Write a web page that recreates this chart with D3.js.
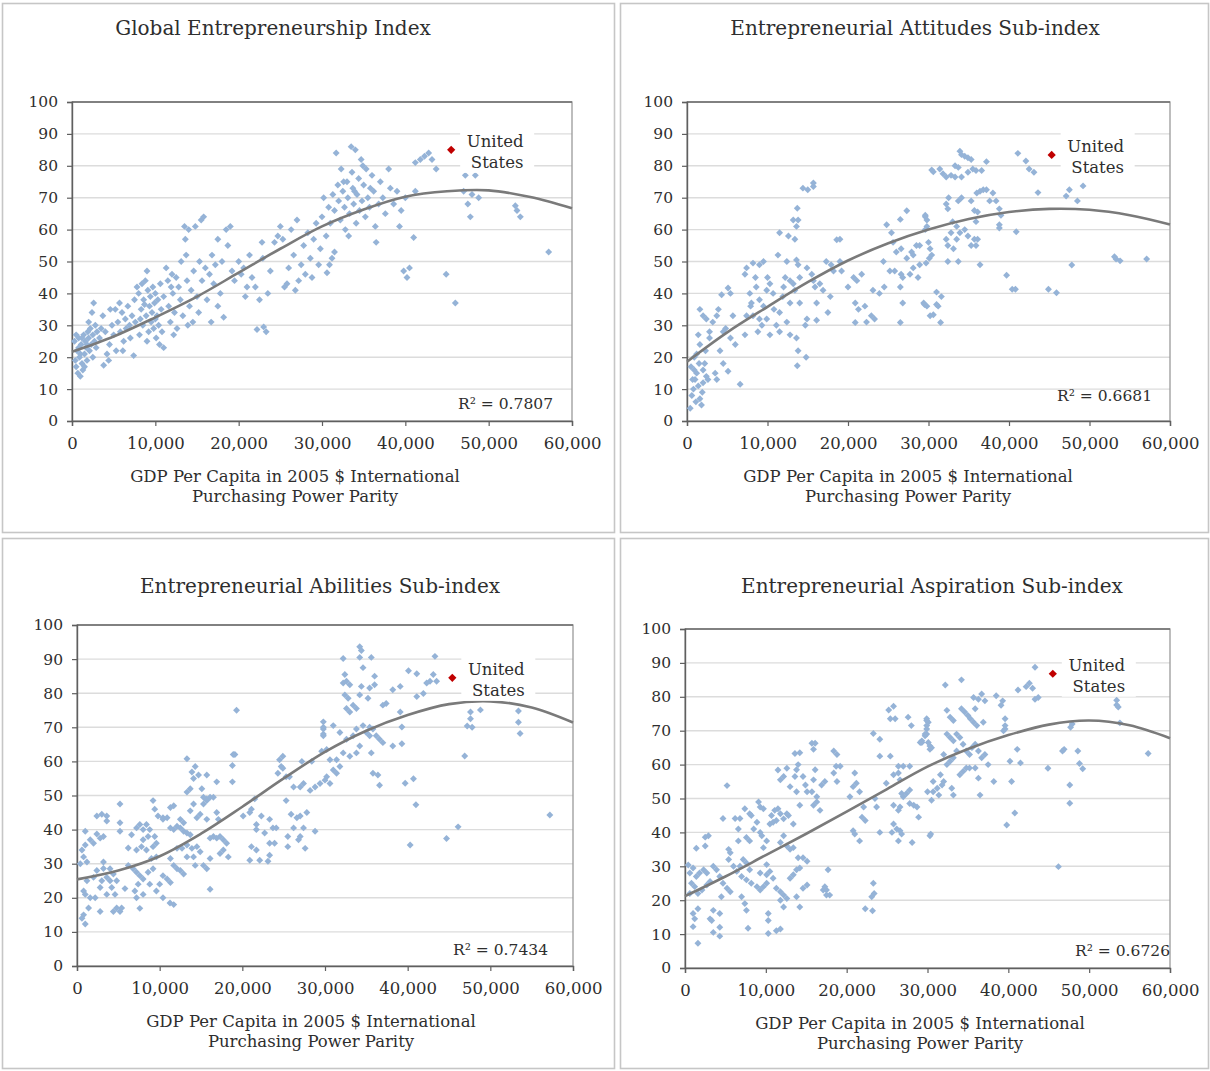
<!DOCTYPE html>
<html lang="en">
<head>
<meta charset="UTF-8">
<title>Entrepreneurship Index vs GDP per Capita</title>
<script src="https://cdn.jsdelivr.net/npm/d3@7"></script>
<style>
    body { margin: 0; background: #fff; }
    svg text { font-family: "DejaVu Serif", serif; fill: #2e2e2e; }
</style>
</head>
<body>
<svg id="chart" width="1210" height="1071"></svg>
<script>
// axis ticks (GDP in thousands of 2005 $ PPP)
const gdpTicks = [0, 10, 20, 30, 40, 50, 60];
const scoreTicks = [0, 10, 20, 30, 40, 50, 60, 70, 80, 90, 100];

// trend line every 5,000 $
const trendGdp = [0, 5, 10, 15, 20, 25, 30, 35, 40, 45, 50, 55, 60];
const geiTrend = [21.7, 26.5, 32.5, 39, 46.5, 54, 61, 66.3, 70.3, 72, 72.3, 70.2, 66.7];
const attitudesTrend = [18.6, 27.8, 35.8, 43.5, 50.3, 55.7, 60, 63.3, 65.5, 66.5, 66.2, 64.5, 61.6];
const abilitiesTrend = [25.4, 28, 32.2, 38.8, 46.7, 55, 62.8, 69, 73.6, 76.8, 77.6, 75.8, 71.4];
const aspirationTrend = [21.2, 27, 33.3, 39.6, 46.1, 52.8, 59.4, 64.6, 68.7, 71.8, 73, 71.6, 67.8];

// United States [gdp, score]
const geiUS = [45.5, 85];
const attitudesUS = [45.3, 83.4];
const abilitiesUS = [45.4, 84.5];
const aspirationUS = [45.5, 86.8];

// country-year points [gdp (thousands), score]
const geiPoints = [
    [0.3,25],[0.4,19],[0.5,17],[0.6,22],[0.7,15],[0.8,26],[0.9,20],[1.0,14],[1.1,24],[1.2,18],[1.3,16],[1.4,27],
    [1.5,21],[1.6,25],[1.7,23],[1.8,19],[1.9,28],[2.0,26],[2.1,22],[2.2,29],[2.3,24],[2.4,34],[2.5,27],[2.6,37],
    [2.7,25],[2.8,30],[2.9,23],[3.0,28],[0.5,27],[1.0,21],[1.5,17],[2.0,31],[0.8,23],[1.2,26],[1.8,24],[2.5,20],
    [3.3,26],[3.5,29],[3.7,33],[4.0,28],[4.2,21],[4.4,19],[4.5,24],[4.8,30],[5.0,27],[5.2,35],[5.3,22],[5.5,31],
    [5.7,37],[5.8,28],[6.0,34],[6.2,25],[6.4,32],[6.5,29],[6.7,36],[6.9,30],[7.0,26],[7.2,33],[7.4,20.5],[7.5,38],
    [7.6,31],[3.8,17.5],[4.6,35],[6.1,22],
    [7.8,42],[8.0,40],[8.1,27],[8.3,35],[8.4,43],[8.5,30],[8.6,38],[8.8,44],[8.9,33],[9.0,47],[9.1,41],[9.2,28],
    [9.3,36],[9.4,39],[9.5,31],[9.6,34],[9.7,42],[9.8,29],[9.9,37],[10.0,40],[10.1,26],[10.2,33],[10.3,38],[10.4,30],
    [10.5,24],[10.6,43],[10.7,35],[10.8,28],[11.0,23],[11.0,39],[8.2,32],[9.0,25],[10.0,32],[8.7,36.5],
    [11.3,48],[11.5,44],[11.6,36],[11.8,31],[12.0,46],[12.1,40],[12.3,34],[12.5,45],[12.6,29],[12.8,42],[13.0,38],
    [13.1,50],[13.3,33],[13.5,61],[13.6,57],[13.7,52],[13.8,44],[14.0,60],[14.1,36],[14.3,41],[14.5,31],[14.6,47],
    [14.8,61],[15.0,39],[15.2,34],[15.5,63],[15.8,64],[12.2,27],[13.9,30],[11.9,42],
    [15.3,50],[15.6,44],[16.0,48],[16.2,38],[16.5,46],[16.7,31],[17.0,43],[17.2,49],[17.5,36],[17.8,40],[18.0,50],
    [18.2,32.5],[18.5,60],[18.7,55],[19.0,61],[19.2,47],[16.8,52],[17.5,57],
    [19.5,44],[20.0,50],[20.3,46],[20.6,48],[20.8,39],[21.0,42],[21.3,52],[21.6,45],[22.0,42],[22.2,28.7],[22.5,38],
    [22.8,56],[23.0,29.5],[23.3,28],[23.5,40],[23.8,47],[22.9,51],
    [24.3,56],[24.7,58],[25.0,61],[25.3,57],[25.5,42],[25.8,43],[26.0,48],[26.3,60],[26.6,52],[27.0,63],[27.2,44],
    [27.5,49],[27.8,55],[28.0,46],[28.3,59],[28.6,51],[29.0,57],[29.3,62],[29.6,49],[30.0,64],[30.2,70],[29.8,54],
    [26.8,41],[28.8,45],
    [30.5,58],[30.8,67],[31.0,62],[31.3,71],[31.5,66],[31.7,84],[31.9,74],[32.0,69],[32.2,63],[32.3,79],[32.5,72],
    [32.7,67],[32.8,60],[33.0,75],[33.1,70],[33.3,65],[33.5,86],[33.6,78],[33.7,73],[33.8,68],[34.0,85],[34.1,62],
    [34.2,71],[34.4,76],[34.5,66],[34.7,82],[34.8,69],[35.0,74],[35.2,64],[35.3,79],[35.5,70],[35.7,67],[36.0,77],
    [36.2,72],[36.4,61],[36.5,56],[36.8,68],[37.0,75],[37.3,70],[37.6,65],[38.0,79],[38.2,73],[33.2,58],[31.2,51],
    [30.6,46.5],[30.9,49],[31.5,53],[32.6,75],[33.9,72],[35.8,73],[34.9,80],
    [38.6,68],[39.0,72],[39.5,66],[39.8,47],[40.2,45],[40.5,48],[41.0,57.5],[41.2,72],[41.2,81],[41.8,82],[42.3,83],
    [42.8,84],[43.2,82],[43.7,79],[40.0,70],[39.3,61],[44.9,46],
    [46.0,37],[47.2,77],[48.4,77],[48.0,71],[47.0,72],[47.5,68],[47.8,64],[48.8,70],[53.2,67.5],[53.4,66],[53.8,64],
    [57.2,53]
];

const attitudesPoints = [
    [0.4,4],[0.6,8],[0.8,10],[1.0,13],[1.2,15],[1.4,11],[1.6,7],[1.8,5],[2.0,12],[2.2,18],[2.4,14],[0.5,17],
    [0.9,20],[1.2,21],[1.6,24],[2.0,16],[2.6,13],[1.1,6],[0.7,13],[1.9,9],[2.3,22],[2.8,26],[1.5,18],[0.9,16],
    [1.6,35],[2.0,33],[2.4,32],[2.8,28],[3.2,31],[1.4,27],[3.7,33],[3.9,35],[4.3,39.6],[5.1,41.7],[5.4,40],[5.7,33],
    [4.5,28],[4.1,22],[4.8,29],[5.4,26],[5.1,15.6],[4.5,18],[3.5,15],[3.7,13],[6.6,11.5],[6.0,24],
    [7.2,46],[7.4,48],[8.2,49.5],[9.0,49],[9.5,50],[8.6,42],[7.8,40],[8.0,37],[9.0,38],[9.9,41],[10.3,43],[10.7,40],
    [7.4,33],[8.2,33],[9.0,32],[9.9,32],[10.3,27],[11.1,30],[11.5,28],[8.8,28],[7.2,27],[9.5,36],[10.0,45],[8.5,45],
    [7.9,36],[10.8,35],[9.3,30],
    [11.3,52],[11.5,59],[12.6,58],[13.7,66.7],[13.2,63],[13.8,63],[13.6,61],[13.4,57],[13.6,50.5],[13.8,49],[12.4,50],
    [12.2,45],[12.8,44],[13.2,43],[14.0,45],[11.9,39],[12.8,37],[13.4,41],[14.0,37],[11.5,34],[12.4,31],[12.8,27],
    [13.6,26],[13.8,22],[14.8,20],[13.7,17.3],[14.7,30],[14.9,32],[14.4,73],[15.0,72.5],[15.7,74.6],[15.7,73.5],[12.0,42],
    [14.9,48],[15.5,46],[15.9,42],[16.1,37],[16.1,31.6],[15.7,44],[16.5,43],[16.9,41],[17.3,50],[17.9,49],[18.6,56.8],
    [19.0,57],[18.2,47],[17.8,39],[17.5,34],[19.2,47],[19.0,50],
    [20.0,42],[20.7,45],[21.1,44],[21.7,46],[20.9,37],[21.3,35],[22.1,36],[22.3,31],[20.9,30.9],[22.9,33],[23.3,32],
    [23.1,41],[23.9,40],[24.5,42],
    [24.8,61.5],[25.4,59],[26.5,63.2],[27.3,65.9],[25.6,56],[26.0,53],[26.6,54],[27.3,51],[27.9,53],[28.5,55],[28.9,55],
    [28.1,52],[24.4,50],[25.2,47],[25.8,47],[26.6,46],[26.8,45],[27.7,46],[28.1,48],[28.7,45],[26.5,42],[26.8,37],
    [26.5,30.9],[29.4,37],[29.8,36],[30.2,33],[29.6,64],[29.8,63],[29.8,61],[30.0,56],[30.2,54],[30.4,52],[30.4,78.7],
    [33.9,84.6],[34.1,83.5],[34.5,83],[34.9,82.5],[35.3,82],[33.3,80],[33.7,79.5],[30.6,78.1],[31.4,79],[31.8,77.5],
    [32.2,76.5],[32.8,77],[33.3,76.5],[34.1,76.5],[34.9,78],[35.5,79],[35.9,78.5],[36.6,78.5],[37.2,81.3],[36.4,72],
    [36.0,71.5],[36.8,72.5],[37.2,72.5],[38.0,71.5],[38.4,69],[38.8,66.5],[39.0,64.5],[38.8,61.5],[38.8,60.5],[37.6,69],
    [35.3,69],[34.1,70],[33.7,69],[32.5,70],[32.2,68],[32.4,66.5],[33.0,62.5],[33.5,61],[32.8,59],[32.2,57],[32.4,55],
    [33.5,57],[33.1,54],[33.9,59],[34.5,60],[35.3,55],[34.9,58],[35.7,57],[35.9,55],[36.1,57],[35.9,62.5],[36.1,65.5],
    [35.7,66],[36.4,49],[33.7,50],[32.4,50],[30.1,51],[29.7,49.5],[28.9,49],[29.6,64.5],[29.6,60],
    [40.9,59.3],[41.1,83.9],[42.1,81.5],[42.5,79],[43.1,78],[43.6,71.6],[39.7,45.7],[40.4,41.3],[40.8,41.3],[44.9,41.3],
    [45.9,40.2],[31.0,40.4],[31.6,39],[29.5,36.5],[31.0,36.5],[31.2,36],[30.6,33.3],[31.5,30.9],
    [47.1,70.5],[47.5,72.5],[48.5,69],[49.2,73.7],[47.8,48.9],[53.1,51.5],[53.3,50.8],[53.8,50.2],[57.1,50.8]
];

const abilitiesPoints = [
    [0.4,30],[1.0,35.5],[0.8,32],[1.2,30.5],[0.6,34],[1.6,37],[2.0,36],[2.4,38.7],[2.8,37.5],[3.2,38],[1.0,39.5],
    [0.8,22],[1.0,21],[1.6,20],[2.2,20],[1.2,25],[2.0,26],[2.4,28],[0.8,15],[1.0,12.3],[0.6,14],[1.4,17],[2.8,16],[3.0,25],
    [2.4,44],[3.0,44.5],[3.6,44],[3.6,42.5],[5.2,47.5],[5.2,42],[5.2,39.5],[3.2,28.6],[3.6,26],[4.0,25],[4.4,27],
    [4.2,23],[4.6,21],[4.8,25],[4.8,17],[5.2,16],[4.4,16],[5.4,17],[5.8,22.7],[3.2,30.5],[4.0,28.5],[2.8,23],[3.6,21],
    [6.2,34.6],[6.6,38.5],[7.2,40.5],[7.6,41.5],[8.0,40],[8.4,41.5],[8.8,40],[8.6,38],[8.0,37],[7.8,35],[7.2,34],
    [8.4,34],[9.2,35],[9.4,38],[9.6,36],[6.2,29.5],[6.8,28.5],[7.2,27.5],[7.6,26.5],[8.0,25.5],[8.6,27.5],[8.8,24],
    [8.0,21],[7.2,20],[7.6,16.9],[7.0,22],[7.4,24],[9.2,28.5],[9.0,31.5],[9.6,32],[9.2,48.5],[9.4,46],[9.8,44],
    [10.4,43.5],[10.4,43],[10.9,43.5],[11.3,40.5],[11.7,40],[12.1,41],[12.5,40.5],[12.9,39.5],[13.3,39],[13.7,38.5],
    [12.5,43],[12.9,42],[11.7,47],[11.3,46.5],[12.1,34.5],[12.7,34.5],[13.3,35.5],[13.9,34.5],[14.5,35],[14.9,33.5],
    [11.3,31.5],[11.7,29.5],[10.4,26.5],[10.9,25.5],[11.3,24.5],[10.0,24],[9.6,22],[10.4,20],[11.25,18.5],[11.7,18],
    [12.1,28.5],[12.5,28],[12.9,27],[13.3,32],[14.1,32],[14.3,29.5],[15.3,29.5],[15.7,28.5],[16.1,22.5],[13.7,45.5],
    [14.1,47.5],[14.5,43.5],[14.9,44.5],[15.3,47.5],[15.7,48.5],[13.3,51],[13.7,52],[14.1,55],[13.9,56.9],[14.3,58.5],
    [14.7,56],[15.1,52],[15.3,49.5],[15.7,56],[13.3,60.8],
    [15.7,49],[16.1,49.5],[16.5,49.5],[16.9,45],[17.1,43],[15.7,43],[16.1,37.5],[16.5,38],[16.9,37.5],[17.3,38],
    [17.7,37],[18.1,36],[18.3,32],[16.9,54],[17.3,33],[17.7,34],[16.1,31.5],[18.9,62],[19.1,62],[18.8,58.8],[18.8,54],[19.3,75],
    [20.1,44],[20.9,45],[21.5,49],[21.1,46],[21.7,41.5],[22.3,44],[23.3,43],[23.7,40.5],[21.7,40],[21.1,35],[21.7,34],
    [22.1,31],[20.9,31],[23.1,30.7],[23.3,32.5],[22.7,39],[23.3,36],[23.9,36],[24.1,40.5],
    [24.5,60.5],[24.7,58.5],[24.9,61.5],[25.3,55.5],[25.7,55.5],[24.3,56.5],[26.2,52.5],[27.0,52.5],[27.4,53.5],
    [28.2,51.5],[28.8,52.5],[29.4,53.5],[30.0,54.5],[25.3,48.5],[25.9,44.5],[26.6,43.5],[27.0,44],[27.4,40.5],[27.8,45],
    [26.2,40.5],[27.0,38],[26.8,37],[25.5,38],[25.5,35],[27.6,34.5],[28.8,39.5],[27.2,60],[28.4,60],[24.9,58],[29.6,63],
    [29.8,71.6],[29.8,70],[29.8,68],[30.2,63.5],[30.6,60.5],
    [34.2,93.6],[34.4,92.5],[32.2,90.2],[34.2,90.5],[34.6,87.5],[35.6,90.5],[36.0,85],[40.1,86.6],[41.1,85.7],[43.3,90.8],
    [43.1,85.5],[42.7,83.5],[43.5,83.5],[42.3,83],
    [32.4,85.5],[32.6,83.5],[33.0,82.5],[32.2,83],[32.4,79.5],[32.8,78.5],[32.6,75.5],[33.0,74.5],[33.4,76.5],[33.8,75.5],
    [34.2,79.5],[35.2,78.5],[35.4,81.5],[36.0,82.5],[34.4,82],[37.0,76.5],[37.4,77],[38.2,81],[39.1,82],[39.1,74.5],
    [41.1,79],[41.9,79.9],
    [29.8,69.5],[29.8,67.5],[31.0,70.5],[31.8,68.5],[32.6,66.5],[33.4,67.5],[33.8,69.5],[34.6,70.5],[35.0,68.5],[35.4,67.5],
    [35.8,69.5],[36.2,67.5],[36.6,66.5],[37.0,65.5],[34.2,64.5],[33.8,62.5],[33.0,61.5],[32.2,62.5],[31.4,60.5],[31.8,58.5],
    [31.0,57.5],[30.2,55.5],[30.6,53.5],[31.4,56.5],[38.2,64.5],[35.6,62.5],[35.8,56.5],[36.4,56],[36.6,53],[35.4,70],
    [39.7,53.6],[40.7,54.9],[41.0,47.3],[40.3,35.5],[44.7,37.4],[46.1,40.8],[57.2,44.3],[39.3,70.1],[39.3,65.2],[46.9,61.6],
    [47.2,70.4],[47.8,70],[47.6,74.5],[47.6,72.5],[48.8,75.1],[53.4,74.8],[53.4,71.5],[53.6,68.2]
];

const aspirationPoints = [
    [0.4,30.4],[0.6,28],[1.0,29.5],[1.4,27],[1.8,28],[2.3,29],[2.7,28],[0.8,25],[1.2,24],[1.6,22],[2.1,23],[2.7,24.5],
    [3.1,25.5],[0.6,22],[1.0,16.1],[1.2,14.5],[1.0,12.2],[1.6,17.5],[1.6,7.3],[1.4,35.3],[2.5,38.6],[2.9,39],[2.5,36],
    [3.1,14.5],[3.3,14],[3.5,10.5],[4.3,9.4],[4.3,12],
    [3.5,30],[3.9,29],[4.3,27],[4.7,25],[5.2,23.5],[5.6,22.5],[4.5,21],[4.3,16.1],[3.5,17],[5.2,53.8],[4.7,44.1],
    [5.4,35],[5.6,34],[5.4,32],[6.0,30],[6.4,28.5],
    [6.2,44.1],[6.8,44.1],[6.6,41],[6.6,37.5],[7.6,38.5],[8.0,37.5],[7.4,47],[8.0,45.5],[8.2,45],[8.5,41],[9.1,49],
    [9.3,47.5],[9.7,47],[8.9,43],[9.3,40],[9.5,39],[7.2,32],[7.6,31],[8.0,29],[6.8,30],[7.0,27],[7.6,26],[8.2,25],
    [8.9,24],[9.3,23],[9.7,24],[10.1,25],[7.0,21],[7.4,19],[7.6,17],[7.8,11.7],[9.3,28],[10.1,27.5],[10.3,16.1],
    [10.3,14],[10.3,10.2],[11.3,11],[11.8,11.5],
    [10.5,42.5],[10.9,43],[11.3,43.5],[10.7,45],[11.1,46.5],[11.5,47],[11.8,45.5],[12.2,44],[12.6,45.5],[12.8,45],
    [13.4,42.5],[12.2,39],[11.8,37],[12.6,36],[13.0,35],[13.4,35.5],[10.1,37.5],[9.7,35.5],[10.1,30.5],[10.5,28.5],
    [10.9,26.5],[11.3,23.5],[11.8,22.5],[12.2,21.5],[12.6,20.5],[13.0,26.5],[13.4,27.5],[13.8,29],[14.2,29.5],[14.0,32.5],
    [14.6,32.5],[15.1,31.5],[15.1,24.5],[14.6,23.5],[13.8,21],[14.2,18],[12.2,18],[11.8,20],[11.5,58.4],[11.8,55.5],
    [12.2,56.5],[12.6,58.9],[13.0,53.5],[13.6,56.5],[13.8,58.5],[13.6,63.3],[14.2,63.5],[14.0,60],[14.6,56.5],[15.7,66.3],
    [16.1,66.3],[15.9,64.5],[16.1,58.5],[15.9,55.5],[15.7,52],[16.3,50.5],[16.9,54],[17.3,55],[15.9,48],[16.3,49],[16.7,46.5],
    [14.9,54],[15.1,52],[14.2,48],[13.8,52],[17.1,23],[17.5,21.5],[17.9,21.5],[17.5,23],[17.7,29],[17.3,24],[18.4,64],
    [18.8,63],[19.2,59.5],[18.7,59.5],[18.8,55],[18.4,57.5],
    [21.0,57.5],[21.2,54.5],[20.8,53.5],[20.4,50.5],[21.6,52],[22.1,47.5],[21.9,44.5],[22.3,43.5],[20.8,40.5],[21.0,39.5],
    [21.6,37.5],[23.3,69.2],[22.3,17.5],[23.3,25],[23.4,22],[23.1,21],[23.2,16.9],[23.5,50],[23.7,47.5],[24.1,67.5],[24.1,40],
    [25.2,76.1],[25.8,77.2],[25.4,73.5],[26.0,73.5],[27.6,74],[28.0,71.5],[24.1,62.5],[25.4,62.5],[26.4,59.5],[27.0,59.5],
    [27.8,59.5],[29.1,66.5],[29.3,67],[29.7,68.5],[29.9,73.5],[30.1,72.5],[29.9,70.5],[29.9,69],[30.1,66.5],[30.3,65.5],
    [30.5,65],[25.8,57],[26.4,57.5],[24.9,54.5],[26.6,55.5],[26.8,51.5],[27.0,50.5],[27.4,51.5],[27.8,52.5],[27.8,48.5],
    [28.3,48],[28.7,47.5],[28.9,44.5],[25.8,48],[26.6,47.5],[26.4,46.5],[25.8,42.5],[26.2,41],[26.6,40.5],[26.4,37.5],
    [26.8,39.5],[28.1,37],[25.6,40],[30.3,39],[30.5,49.5],[30.7,55],[30.7,52],
    [32.2,83.5],[34.2,85],[43.3,88.7],[35.7,79.8],[36.3,79.3],[36.7,80.8],[37.1,78.8],[38.5,80.3],[39.3,78.8],[39.1,77.5],
    [41.2,82],[42.2,83],[42.6,84],[43.0,82.5],[43.3,79.3],[43.7,79.8],[35.9,76.5],[32.4,76],[32.8,74],[33.2,73],[34.2,76.5],
    [34.6,75.5],[35.0,74.5],[35.3,73.5],[35.7,72.5],[36.1,71.5],[36.9,72.5],[39.6,73.5],[39.6,71.5],[39.6,70.5],[39.4,70],
    [29.9,73],[29.9,71.5],[29.7,69],[29.3,66.5],[30.3,64.5],[32.4,69],[32.8,68],[33.2,67],[33.6,69],[34.0,68],[34.4,66],
    [34.8,64],[35.2,63],[35.5,65],[35.9,66],[36.3,64],[36.7,62],[37.1,63],[37.5,60],[33.6,64],[33.2,62],[32.8,61],[32.4,60],
    [32.0,63],[31.6,57],[32.0,55],[31.8,54],[31.2,53],[31.4,51],[33.2,51],[33.0,53],[34.0,57],[34.4,58],[34.8,59],[35.2,59],
    [35.9,59],[36.3,56],[36.5,51],[38.2,55],[40.2,61],[40.4,55],[41.1,64.5],[41.5,60.5],[30.0,52],[30.4,39.5],[39.8,42.2],
    [40.8,45.7],[44.9,58.9],[46.2,29.9],
    [46.7,64],[46.9,64.5],[48.6,64],[47.7,71],[47.9,72],[48.8,60.3],[49.2,58.8],[47.6,54],[47.6,48.6],[53.4,79],[53.4,77.6],
    [53.6,77],[53.8,72.3],[57.3,63.3]
];

// layout of the four boxes
const panels = [
    { title: "Global Entrepreneurship Index", points: geiPoints, trend: geiTrend, us: geiUS, r2: "0.7807",
      frame: [2, 3, 612, 529], plot: [72, 102, 572, 421], titleX: 273, titleY: 35, labelX: 295, r2X: 553, r2Y: 409 },
    { title: "Entrepreneurial Attitudes Sub-index", points: attitudesPoints, trend: attitudesTrend, us: attitudesUS, r2: "0.6681",
      frame: [620, 3, 588, 529], plot: [687, 102, 1170, 421], titleX: 915, titleY: 35, labelX: 908, r2X: 1152, r2Y: 401 },
    { title: "Entrepreneurial Abilities Sub-index", points: abilitiesPoints, trend: abilitiesTrend, us: abilitiesUS, r2: "0.7434",
      frame: [2, 538, 612, 530], plot: [77, 625, 573, 966], titleX: 320, titleY: 593, labelX: 311, r2X: 548, r2Y: 955 },
    { title: "Entrepreneurial Aspiration Sub-index", points: aspirationPoints, trend: aspirationTrend, us: aspirationUS, r2: "0.6726",
      frame: [620, 538, 588, 530], plot: [685, 629, 1170, 968], titleX: 932, titleY: 593, labelX: 920, r2X: 1170, r2Y: 956 }
];

const svg = d3.select("#chart");
const diamond = d3.symbol().type(d3.symbolSquare);

panels.forEach(p => {
    const [x0, y0, x1, y1] = p.plot;
    const x = d3.scaleLinear().domain([0, 60]).range([x0, x1]);
    const y = d3.scaleLinear().domain([0, 100]).range([y1, y0]);
    const g = svg.append("g");

    // box round each chart
    g.append("rect")
        .attr("x", p.frame[0] + 0.5).attr("y", p.frame[1] + 0.5)
        .attr("width", p.frame[2]).attr("height", p.frame[3])
        .attr("fill", "none").attr("stroke", "#c6c6c6").attr("stroke-width", 1.6);

    g.append("text")
        .attr("x", p.titleX).attr("y", p.titleY)
        .attr("text-anchor", "middle").style("font-size", "20px")
        .text(p.title);

    // horizontal gridlines
    g.append("g").selectAll("line")
        .data(scoreTicks.filter(d => d > 0 && d < 100))
        .join("line")
        .attr("x1", x0).attr("x2", x1)
        .attr("y1", d => y(d)).attr("y2", d => y(d))
        .attr("stroke", "#dcdcdc").attr("stroke-width", 1.4);

    g.append("rect")
        .attr("x", x0).attr("y", y0).attr("width", x1 - x0).attr("height", y1 - y0)
        .attr("fill", "none").attr("stroke", "#9a9a9a").attr("stroke-width", 1.3);
    g.append("line").attr("x1", x0).attr("x2", x1).attr("y1", y0).attr("y2", y0)
        .attr("stroke", "#6e6e6e").attr("stroke-width", 1.3);

    // axes
    const yAxis = g.append("g").attr("transform", `translate(${x0},0)`)
        .call(d3.axisLeft(y).tickValues(scoreTicks).tickSize(5).tickPadding(9));
    const xAxis = g.append("g").attr("transform", `translate(0,${y1})`)
        .call(d3.axisBottom(x).tickValues(gdpTicks).tickSize(5).tickPadding(11)
            .tickFormat(d => d3.format(",")(d * 1000)));
    [yAxis, xAxis].forEach(a => {
        a.select(".domain").attr("stroke", "#5f5f5f").attr("stroke-width", 1.4);
        a.selectAll(".tick line").attr("stroke", "#5f5f5f").attr("stroke-width", 1.2);
        a.selectAll("text").attr("fill", "#2e2e2e")
            .style("font-family", "'DejaVu Serif', serif");
    });
    yAxis.selectAll("text").style("font-size", "15.5px");
    xAxis.selectAll("text").style("font-size", "16.5px");

    // points
    g.append("g").selectAll("path")
        .data(p.points)
        .join("path")
        .attr("d", diamond.size(24))
        .attr("transform", d => `translate(${x(d[0])},${y(d[1])}) rotate(45)`)
        .attr("fill", "#95b3d7");

    // polynomial trend line
    const line = d3.line()
        .x((d, i) => x(trendGdp[i]))
        .y(d => y(d))
        .curve(d3.curveCatmullRom);
    g.append("path")
        .attr("d", line(p.trend))
        .attr("fill", "none").attr("stroke", "#7a7a7a").attr("stroke-width", 2.6);

    // United States label
    const ux = x(p.us[0]), uy = y(p.us[1]);
    g.append("rect")
        .attr("x", ux + 9).attr("y", uy - 24).attr("width", 74).attr("height", 47)
        .attr("fill", "#fff");
    g.append("path")
        .attr("d", diamond.size(34))
        .attr("transform", `translate(${ux},${uy}) rotate(45)`)
        .attr("fill", "#c00000");
    g.append("text").attr("x", ux + 44).attr("y", uy - 3)
        .attr("text-anchor", "middle").style("font-size", "16.5px").text("United");
    g.append("text").attr("x", ux + 46).attr("y", uy + 18)
        .attr("text-anchor", "middle").style("font-size", "16.5px").text("States");

    g.append("text")
        .attr("x", p.r2X).attr("y", p.r2Y)
        .attr("text-anchor", "end").style("font-size", "15.5px")
        .text("R\u00b2 = " + p.r2);

    // axis title
    g.append("text").attr("x", p.labelX).attr("y", y1 + 61)
        .attr("text-anchor", "middle").style("font-size", "16.5px")
        .text("GDP Per Capita in 2005 $ International");
    g.append("text").attr("x", p.labelX).attr("y", y1 + 81)
        .attr("text-anchor", "middle").style("font-size", "16.5px")
        .text("Purchasing Power Parity");
});
</script>
</body>
</html>
